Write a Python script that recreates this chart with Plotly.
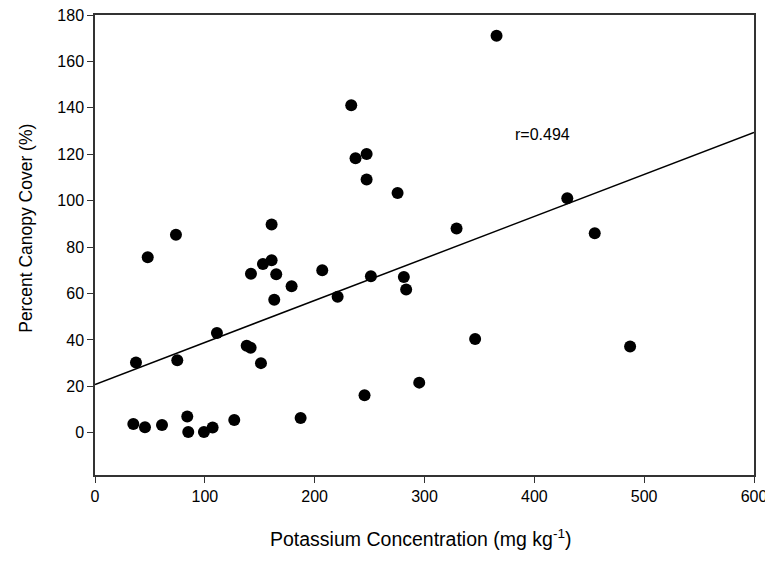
import plotly.graph_objects as go

# Potassium concentration (mg/kg) and percent canopy cover (%)
potassium = [37.3, 74.9, 138.1, 141.7, 151.1, 34.9, 45.5, 61.0, 84.0, 84.9,
             99.2, 107.1, 126.8, 187.2, 160.8, 73.7, 48.0, 160.8, 152.9, 142.0,
             165.0, 206.9, 179.0, 163.2, 111.0, 233.3, 237.2, 247.3, 247.3, 275.5,
             251.2, 281.2, 283.3, 220.9, 430.0, 455.0, 329.2, 346.1, 487.2, 295.2,
             245.4, 365.6]
canopy = [30.3, 31.2, 37.5, 36.6, 30.0, 3.8, 2.4, 3.3, 7.0, 0.3,
          0.3, 2.3, 5.5, 6.4, 89.7, 85.3, 75.6, 74.3, 72.7, 68.5,
          68.3, 70.0, 63.1, 57.3, 43.0, 141.1, 118.3, 120.1, 109.1, 103.3,
          67.4, 67.1, 61.7, 58.6, 101.0, 86.0, 88.0, 40.4, 37.2, 21.6,
          16.2, 171.1]

# Regression line endpoints
fit_x = [0, 600]
fit_y = [20.8, 129.4]

x_ticks = [0, 100, 200, 300, 400, 500, 600]
y_ticks = [0, 20, 40, 60, 80, 100, 120, 140, 160, 180]

FONT = "Liberation Sans, Arial, sans-serif"

fig = go.Figure()
fig.add_trace(go.Scatter(x=fit_x, y=fit_y, mode="lines",
                         line=dict(color="black", width=1.5),
                         showlegend=False, hoverinfo="skip"))
fig.add_trace(go.Scatter(x=potassium, y=canopy, mode="markers",
                         marker=dict(color="black", size=12),
                         showlegend=False))

fig.add_annotation(x=407, y=128.5, text="r=0.494", showarrow=False,
                   font=dict(family=FONT, size=16, color="black"))

# Axis titles as annotations for exact placement
fig.add_annotation(xref="paper", yref="paper", x=0.495, y=-0.138,
                   text="Potassium Concentration (mg kg<sup>-1</sup>)",
                   showarrow=False, xanchor="center", yanchor="middle",
                   font=dict(family=FONT, size=19.5, color="black"))
fig.add_annotation(xref="paper", yref="paper", x=-0.105, y=0.537,
                   text="Percent Canopy Cover (%)", textangle=-90,
                   showarrow=False, xanchor="center", yanchor="middle",
                   font=dict(family=FONT, size=17.5, color="black"))

axis_common = dict(showgrid=False, zeroline=False, showline=True,
                   linecolor="#333333", linewidth=1.5, mirror=True,
                   ticks="outside", ticklen=6, tickwidth=1.2, tickcolor="#333333",
                   automargin=False, ticklabeloverflow="allow",
                   tickfont=dict(family=FONT, size=16, color="black"))

fig.update_xaxes(range=[0, 600], tickvals=x_ticks, **axis_common)
fig.update_yaxes(range=[-18.2, 180], tickvals=y_ticks, **axis_common)

# The page body has an 8px margin, so the figure is sized to fit the window
fig.update_layout(width=765, height=556,
                  margin=dict(l=87, r=19, t=7, b=89),
                  plot_bgcolor="white", paper_bgcolor="white",
                  font=dict(family=FONT))

fig.write_html("out.html")
